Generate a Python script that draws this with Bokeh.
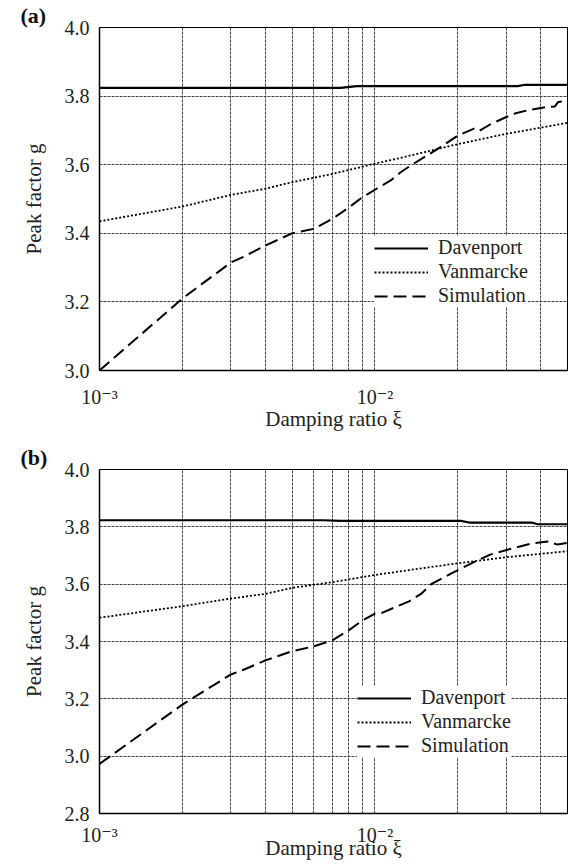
from bokeh.plotting import figure
from bokeh.models import (Range1d, FixedTicker, CustomJSTickFormatter, Legend,
                          LegendItem, Title, PrintfTickFormatter)
from bokeh.layouts import column
from bokeh.embed import file_html
from bokeh.resources import INLINE

FONT = "Liberation Serif, Times New Roman, DejaVu Serif, serif"

# ---------------- data ----------------
x_major_ticks = [0.001, 0.01]
x_grid_ticks = [0.002, 0.003, 0.004, 0.005, 0.006, 0.007, 0.008, 0.009,
                0.01, 0.02, 0.03, 0.04, 0.05]
y_ticks_a = [3.0, 3.2, 3.4, 3.6, 3.8, 4.0]
y_ticks_b = [2.8, 3.0, 3.2, 3.4, 3.6, 3.8, 4.0]
series_names = ["Davenport", "Vanmarcke", "Simulation"]

# panel (a)
dav_x_a = [0.001, 0.0075, 0.0086, 0.033, 0.035, 0.05]
dav_g_a = [3.824, 3.824, 3.829, 3.829, 3.833, 3.833]
van_x_a = [0.001, 0.002, 0.003, 0.004, 0.005, 0.007, 0.01, 0.0124, 0.02, 0.03, 0.05]
van_g_a = [3.435, 3.478, 3.512, 3.530, 3.549, 3.573, 3.603, 3.620, 3.660, 3.690, 3.722]
sim_x_a = [0.001, 0.002, 0.003, 0.0033, 0.004, 0.005, 0.006, 0.007, 0.008, 0.009,
           0.01, 0.0114, 0.0124, 0.0135, 0.0169, 0.02, 0.0229, 0.0238, 0.0264,
           0.03, 0.0327, 0.0365, 0.0417, 0.045, 0.0463, 0.05]
sim_g_a = [3.000, 3.210, 3.315, 3.330, 3.364, 3.400, 3.413, 3.442, 3.474, 3.505,
           3.527, 3.554, 3.578, 3.598, 3.646, 3.685, 3.705, 3.698, 3.719,
           3.739, 3.751, 3.760, 3.768, 3.770, 3.783, 3.787]

# panel (b)
dav_x_b = [0.001, 0.0065, 0.0075, 0.0205, 0.022, 0.037, 0.039, 0.05]
dav_g_b = [3.823, 3.823, 3.821, 3.821, 3.815, 3.815, 3.809, 3.809]
van_x_b = [0.001, 0.002, 0.003, 0.004, 0.005, 0.007, 0.01, 0.0135, 0.02, 0.03, 0.05]
van_g_b = [3.483, 3.523, 3.550, 3.566, 3.587, 3.607, 3.632, 3.650, 3.673, 3.694, 3.715]
sim_x_b = [0.001, 0.002, 0.003, 0.0034, 0.004, 0.005, 0.006, 0.007, 0.008, 0.009,
           0.01, 0.0106, 0.0133, 0.0147, 0.016, 0.0188, 0.0222, 0.0262, 0.031,
           0.0368, 0.0423, 0.046, 0.05]
sim_g_b = [2.973, 3.180, 3.285, 3.305, 3.334, 3.366, 3.383, 3.404, 3.438, 3.473,
           3.497, 3.500, 3.540, 3.566, 3.600, 3.636, 3.671, 3.703, 3.723,
           3.741, 3.749, 3.738, 3.744]

sup_formatter = CustomJSTickFormatter(code="""
const sup = {'-':'\\u207b','0':'\\u2070','1':'\\u00b9','2':'\\u00b2','3':'\\u00b3',
             '4':'\\u2074','5':'\\u2075','6':'\\u2076','7':'\\u2077','8':'\\u2078','9':'\\u2079'};
const e = Math.round(Math.log10(tick));
return '10' + String(e).split('').map(c => sup[c]).join('');
""")


def make_panel(tag, y_lo, y_hi, y_ticks, dav_x, dav_g, van_x, van_g, sim_x, sim_g,
               legend_loc, b_top, frame_h, x_lbl_standoff, x_axlbl_standoff):
    p = figure(x_axis_type="log", x_range=Range1d(0.001, 0.05),
               y_range=Range1d(y_lo, y_hi), frame_width=468, frame_height=frame_h,
               min_border_left=99, min_border_right=1, min_border_top=b_top,
               min_border_bottom=0, output_backend="svg",
               toolbar_location=None)
    p.background_fill_color = "white"
    p.border_fill_color = "white"
    p.outline_line_color = "black"
    p.outline_line_width = 1

    # panel tag
    p.add_layout(Title(text=tag, align="left", offset=-79, standoff=0,
                       vertical_align="bottom", text_font=FONT,
                       text_font_size="22px", text_font_style="bold",
                       text_color="#111111"), "above")

    # axes
    p.xaxis.ticker = FixedTicker(ticks=x_major_ticks, minor_ticks=[])
    p.xaxis.formatter = sup_formatter
    p.yaxis.ticker = FixedTicker(ticks=y_ticks, minor_ticks=[])
    p.yaxis.formatter = PrintfTickFormatter(format="%.1f")
    for ax in (p.xaxis, p.yaxis):
        ax.major_tick_line_color = None
        ax.minor_tick_line_color = None
        ax.major_tick_out = 0
        ax.major_tick_in = 0
        ax.minor_tick_out = 0
        ax.axis_line_color = "black"
        ax.axis_line_width = 1.5
        ax.major_label_text_font = FONT
        ax.major_label_text_font_size = "20px"
        ax.major_label_text_color = "#222222"
        ax.axis_label_text_font = FONT
        ax.axis_label_text_font_size = "21px"
        ax.axis_label_text_font_style = "normal"
        ax.axis_label_text_color = "#222222"
    p.xaxis.axis_label = "Damping ratio \u03be"
    p.yaxis.axis_label = "Peak factor g"
    p.yaxis.major_label_standoff = 10
    p.yaxis.axis_label_standoff = 16
    p.xaxis.major_label_standoff = x_lbl_standoff
    p.xaxis.axis_label_standoff = x_axlbl_standoff

    # grids
    p.xgrid.ticker = FixedTicker(ticks=x_grid_ticks, minor_ticks=[])
    p.ygrid.ticker = FixedTicker(ticks=y_ticks, minor_ticks=[])
    for g in (p.xgrid, p.ygrid):
        g.grid_line_color = "#444444"
        g.grid_line_width = 1
        g.grid_line_dash = "3 1"
        g.grid_line_alpha = 1.0

    r_dav = p.line(dav_x, dav_g, line_color="black", line_width=2.2)
    r_van = p.line(van_x, van_g, line_color="black", line_width=1.8, line_dash="2 2")
    r_sim = p.line(sim_x, sim_g, line_color="black", line_width=2, line_dash="13 6")

    legend = Legend(items=[LegendItem(label=series_names[0], renderers=[r_dav]),
                           LegendItem(label=series_names[1], renderers=[r_van]),
                           LegendItem(label=series_names[2], renderers=[r_sim])],
                    location=legend_loc)
    legend.border_line_color = None
    legend.background_fill_color = "white"
    legend.background_fill_alpha = 1.0
    legend.label_text_font = FONT
    legend.label_text_font_size = "20px"
    legend.label_text_color = "#222222"
    legend.glyph_width = 54
    legend.glyph_height = 20
    legend.label_standoff = 10
    legend.label_height = 22
    legend.spacing = 1
    legend.padding = 4
    legend.margin = 0
    p.add_layout(legend)
    return p


pa = make_panel("(a)", 3.0, 4.0, y_ticks_a, dav_x_a, dav_g_a, van_x_a, van_g_a,
                sim_x_a, sim_g_a, (275, 63), 0, 343, 15, -4)
pb = make_panel("(b)", 2.8, 4.0, y_ticks_b, dav_x_b, dav_g_b, van_x_b, van_g_b,
                sim_x_b, sim_g_b, (258, 56), 36, 344, 10, -13)

layout = column(pa, pb, spacing=0)
open("out.html", "w").write(file_html(layout, INLINE))
